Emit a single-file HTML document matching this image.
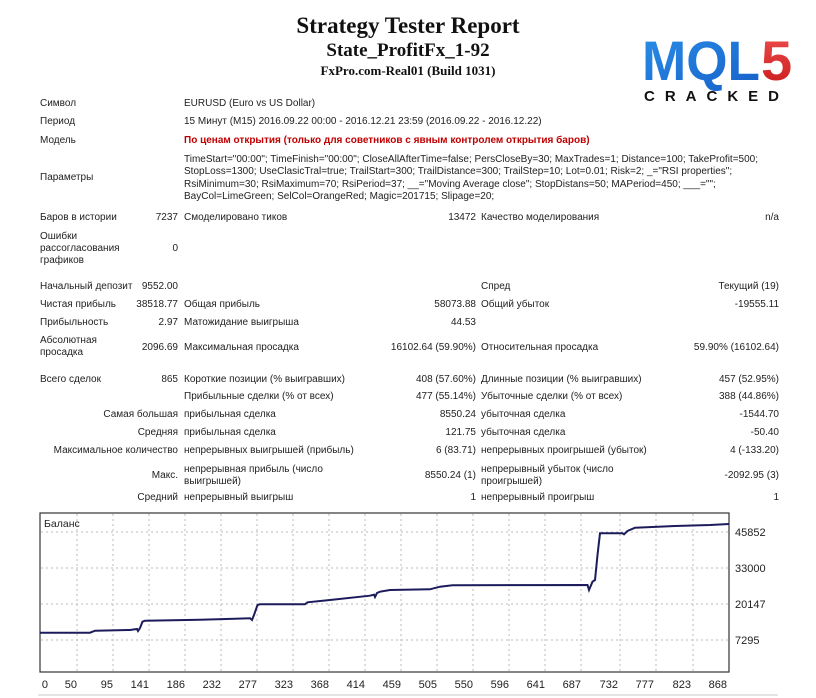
<!DOCTYPE html>
<html><head><meta charset="utf-8">
<style>
body{margin:0;background:#fff;}
#p{position:relative;width:816px;height:698px;overflow:hidden;background:#fff;font-family:"Liberation Sans",sans-serif;font-size:10px;color:#222;}
.t{position:absolute;white-space:nowrap;line-height:12px;}
.r{text-align:right;}
.h{position:absolute;left:0;width:816px;text-align:center;font-family:"Liberation Serif",serif;font-weight:bold;color:#111;white-space:nowrap;}
</style></head><body><div id="p">
<div class="h" style="top:13px;font-size:23px;">Strategy Tester Report</div>
<div class="h" style="top:40px;font-size:19px;">State_ProfitFx_1-92</div>
<div class="h" style="top:63px;font-size:13px;">FxPro.com-Real01 (Build 1031)</div>

<svg style="position:absolute;left:640px;top:28px" width="170" height="80">
<defs><linearGradient id="g" x1="0" y1="0" x2="1" y2="1"><stop offset="0" stop-color="#2a8fe8"/><stop offset="1" stop-color="#1660c8"/></linearGradient>
<linearGradient id="rg" x1="0" y1="0" x2="0" y2="1"><stop offset="0" stop-color="#f05050"/><stop offset="1" stop-color="#c81818"/></linearGradient></defs>
<text x="2" y="52" font-family="Liberation Sans" font-weight="bold" font-size="56" fill="url(#g)" textLength="118" lengthAdjust="spacingAndGlyphs">MQL</text>
<text x="121" y="52" font-family="Liberation Sans" font-weight="bold" font-size="56" fill="url(#rg)">5</text>
<text x="4" y="73" font-family="Liberation Sans" font-weight="bold" font-size="15" fill="#111" letter-spacing="10">CRACKED</text>
</svg>

<div class="t" style="left:40px;top:98px">Символ</div>
<div class="t" style="left:184px;top:98px">EURUSD (Euro vs US Dollar)</div>
<div class="t" style="left:40px;top:116px">Период</div>
<div class="t" style="left:184px;top:116px">15 Минут (M15) 2016.09.22 00:00 - 2016.12.21 23:59 (2016.09.22 - 2016.12.22)</div>
<div class="t" style="left:40px;top:135px">Модель</div>
<div class="t" style="left:184px;top:135px;color:#c00000;font-weight:bold">По ценам открытия (только для советников с явным контролем открытия баров)</div>
<div class="t" style="left:40px;top:172px">Параметры</div>
<div class="t" style="left:184px;top:154px;line-height:12.3px">TimeStart="00:00"; TimeFinish="00:00"; CloseAllAfterTime=false; PersCloseBy=30; MaxTrades=1; Distance=100; TakeProfit=500;<br>StopLoss=1300; UseClasicTral=true; TrailStart=300; TrailDistance=300; TrailStep=10; Lot=0.01; Risk=2; _="RSI properties";<br>RsiMinimum=30; RsiMaximum=70; RsiPeriod=37; __="Moving Average close"; StopDistans=50; MAPeriod=450; ___="";<br>BayCol=LimeGreen; SelCol=OrangeRed; Magic=201715; Slipage=20;</div>

<div class="t" style="left:40px;top:212px">Баров в истории</div>
<div class="t r" style="left:120px;width:58px;top:212px">7237</div>
<div class="t" style="left:184px;top:212px">Смоделировано тиков</div>
<div class="t r" style="left:400px;width:76px;top:212px">13472</div>
<div class="t" style="left:481px;top:212px">Качество моделирования</div>
<div class="t r" style="left:700px;width:79px;top:212px">n/a</div>
<div class="t" style="left:40px;top:231px">Ошибки<br>рассогласования<br>графиков</div>
<div class="t r" style="left:120px;width:58px;top:243px">0</div>

<div class="t" style="left:40px;top:281px">Начальный депозит</div>
<div class="t r" style="left:120px;width:58px;top:281px">9552.00</div>
<div class="t" style="left:481px;top:281px">Спред</div>
<div class="t r" style="left:650px;width:129px;top:281px">Текущий (19)</div>

<div class="t" style="left:40px;top:299px">Чистая прибыль</div>
<div class="t r" style="left:120px;width:58px;top:299px">38518.77</div>
<div class="t" style="left:184px;top:299px">Общая прибыль</div>
<div class="t r" style="left:380px;width:96px;top:299px">58073.88</div>
<div class="t" style="left:481px;top:299px">Общий убыток</div>
<div class="t r" style="left:650px;width:129px;top:299px">-19555.11</div>

<div class="t" style="left:40px;top:317px">Прибыльность</div>
<div class="t r" style="left:120px;width:58px;top:317px">2.97</div>
<div class="t" style="left:184px;top:317px">Матожидание выигрыша</div>
<div class="t r" style="left:380px;width:96px;top:317px">44.53</div>

<div class="t" style="left:40px;top:335px">Абсолютная<br>просадка</div>
<div class="t r" style="left:120px;width:58px;top:342px">2096.69</div>
<div class="t" style="left:184px;top:342px">Максимальная просадка</div>
<div class="t r" style="left:350px;width:126px;top:342px">16102.64 (59.90%)</div>
<div class="t" style="left:481px;top:342px">Относительная просадка</div>
<div class="t r" style="left:650px;width:129px;top:342px">59.90% (16102.64)</div>

<div class="t" style="left:40px;top:374px">Всего сделок</div>
<div class="t r" style="left:120px;width:58px;top:374px">865</div>
<div class="t" style="left:184px;top:374px">Короткие позиции (% выигравших)</div>
<div class="t r" style="left:380px;width:96px;top:374px">408 (57.60%)</div>
<div class="t" style="left:481px;top:374px">Длинные позиции (% выигравших)</div>
<div class="t r" style="left:650px;width:129px;top:374px">457 (52.95%)</div>

<div class="t" style="left:184px;top:391px">Прибыльные сделки (% от всех)</div>
<div class="t r" style="left:380px;width:96px;top:391px">477 (55.14%)</div>
<div class="t" style="left:481px;top:391px">Убыточные сделки (% от всех)</div>
<div class="t r" style="left:650px;width:129px;top:391px">388 (44.86%)</div>

<div class="t r" style="left:40px;width:138px;top:409px">Самая большая</div>
<div class="t" style="left:184px;top:409px">прибыльная сделка</div>
<div class="t r" style="left:380px;width:96px;top:409px">8550.24</div>
<div class="t" style="left:481px;top:409px">убыточная сделка</div>
<div class="t r" style="left:650px;width:129px;top:409px">-1544.70</div>

<div class="t r" style="left:40px;width:138px;top:427px">Средняя</div>
<div class="t" style="left:184px;top:427px">прибыльная сделка</div>
<div class="t r" style="left:380px;width:96px;top:427px">121.75</div>
<div class="t" style="left:481px;top:427px">убыточная сделка</div>
<div class="t r" style="left:650px;width:129px;top:427px">-50.40</div>

<div class="t r" style="left:20px;width:158px;top:445px">Максимальное количество</div>
<div class="t" style="left:184px;top:445px">непрерывных выигрышей (прибыль)</div>
<div class="t r" style="left:380px;width:96px;top:445px">6 (83.71)</div>
<div class="t" style="left:481px;top:445px">непрерывных проигрышей (убыток)</div>
<div class="t r" style="left:650px;width:129px;top:445px">4 (-133.20)</div>

<div class="t r" style="left:40px;width:138px;top:470px">Макс.</div>
<div class="t" style="left:184px;top:464px">непрерывная прибыль (число<br>выигрышей)</div>
<div class="t r" style="left:380px;width:96px;top:470px">8550.24 (1)</div>
<div class="t" style="left:481px;top:464px">непрерывный убыток (число<br>проигрышей)</div>
<div class="t r" style="left:650px;width:129px;top:470px">-2092.95 (3)</div>

<div class="t r" style="left:40px;width:138px;top:492px">Средний</div>
<div class="t" style="left:184px;top:492px">непрерывный выигрыш</div>
<div class="t r" style="left:380px;width:96px;top:492px">1</div>
<div class="t" style="left:481px;top:492px">непрерывный проигрыш</div>
<div class="t r" style="left:650px;width:129px;top:492px">1</div>

<svg style="position:absolute;left:0;top:0" width="816" height="698">
<g stroke="#bbb" stroke-dasharray="2,3" stroke-width="1">
<line x1="41" y1="532" x2="729" y2="532"/><line x1="41" y1="568" x2="729" y2="568"/>
<line x1="41" y1="604" x2="729" y2="604"/><line x1="41" y1="640" x2="729" y2="640"/>
<line x1="77" y1="514" x2="77" y2="672"/><line x1="113" y1="514" x2="113" y2="672"/>
<line x1="149" y1="514" x2="149" y2="672"/><line x1="185" y1="514" x2="185" y2="672"/>
<line x1="221" y1="514" x2="221" y2="672"/><line x1="257" y1="514" x2="257" y2="672"/>
<line x1="293" y1="514" x2="293" y2="672"/><line x1="329" y1="514" x2="329" y2="672"/>
<line x1="365" y1="514" x2="365" y2="672"/><line x1="401" y1="514" x2="401" y2="672"/>
<line x1="437" y1="514" x2="437" y2="672"/><line x1="473" y1="514" x2="473" y2="672"/>
<line x1="509" y1="514" x2="509" y2="672"/><line x1="545" y1="514" x2="545" y2="672"/>
<line x1="581" y1="514" x2="581" y2="672"/><line x1="620" y1="514" x2="620" y2="672"/>
<line x1="656" y1="514" x2="656" y2="672"/><line x1="693" y1="514" x2="693" y2="672"/>
</g>
<rect x="40" y="513" width="689" height="159" fill="none" stroke="#333" stroke-width="1.2"/>
<polyline fill="none" stroke="#1c1c5c" stroke-width="2" points="40,632.7 90,632.7 95,630.7 130,630 137,629 138,631 140,628 142.5,621.7 145,620.7 200,619.7 235,618.7 250,618.3 252,620 254,615 257.5,605 260,604.3 305,604.3 307.5,602.3 330,600 370,595.7 374,594.7 375,597 377,593 380,591.7 390,590 430,589.3 440,586.7 452.5,585.3 587.5,585 589,590 592.5,581.7 595,580 597.5,555 600,533.3 622.5,533.3 624,534.3 627.5,531 635,527.7 675,526 710,525 729,524"/>
<g font-family="Liberation Sans" font-size="11" fill="#222">
<text x="44" y="527" font-size="10.5">Баланс</text>
<text x="735" y="536">45852</text><text x="735" y="572">33000</text>
<text x="735" y="608">20147</text><text x="735" y="644">7295</text>
</g>
<g font-family="Liberation Sans" font-size="11" fill="#222" text-anchor="end">
<text x="48" y="688">0</text><text x="77" y="688">50</text><text x="113" y="688">95</text>
<text x="149" y="688">141</text><text x="185" y="688">186</text><text x="221" y="688">232</text>
<text x="257" y="688">277</text><text x="293" y="688">323</text><text x="329" y="688">368</text>
<text x="365" y="688">414</text><text x="401" y="688">459</text><text x="437" y="688">505</text>
<text x="473" y="688">550</text><text x="509" y="688">596</text><text x="545" y="688">641</text>
<text x="581" y="688">687</text><text x="618" y="688">732</text><text x="654" y="688">777</text>
<text x="691" y="688">823</text><text x="727" y="688">868</text>
</g>
<line x1="38" y1="695" x2="778" y2="695" stroke="#e4e4e4" stroke-width="2"/>
</svg>
</div></body></html>
